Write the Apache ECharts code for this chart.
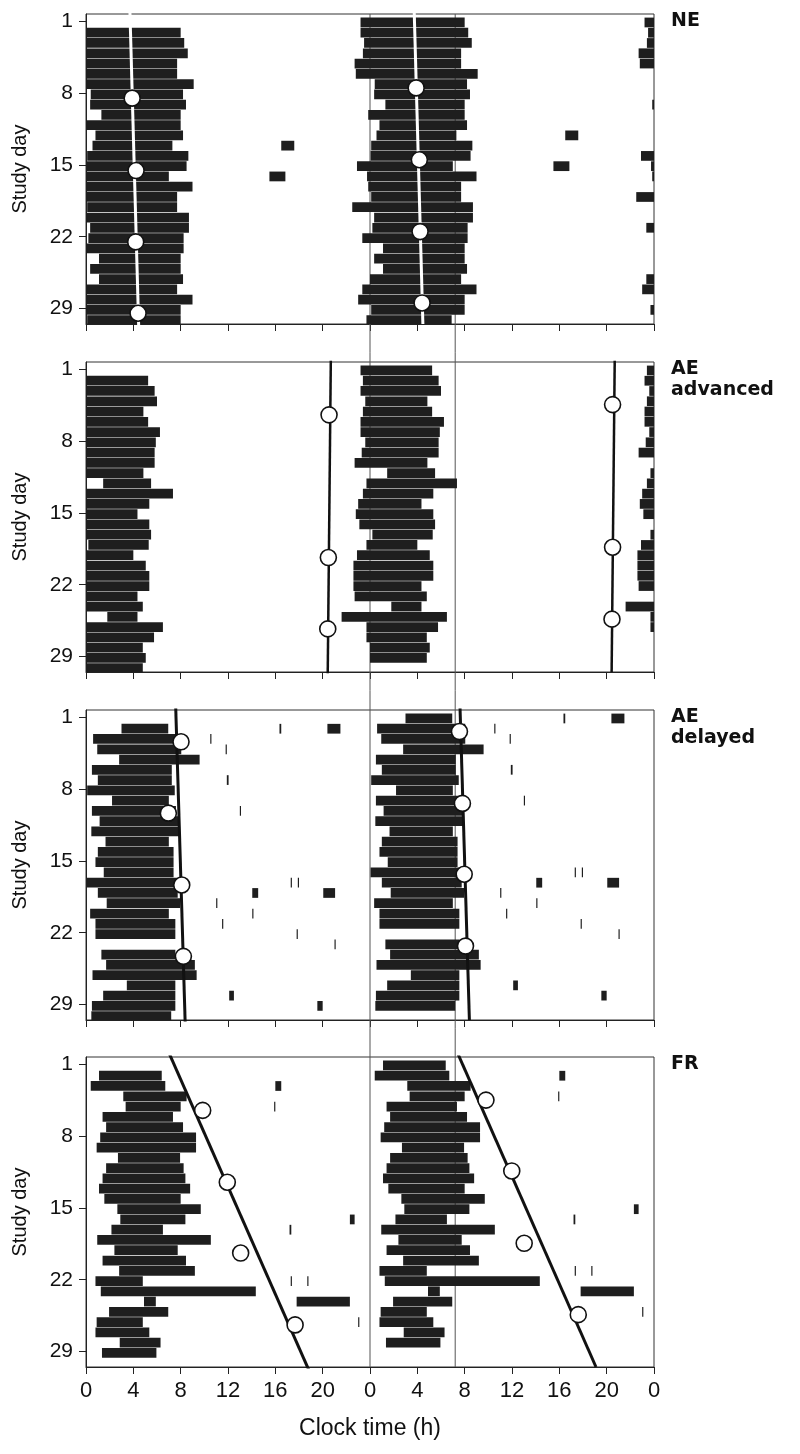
<!DOCTYPE html>
<html>
<head>
<meta charset="utf-8">
<script src="https://cdn.jsdelivr.net/npm/echarts@6/dist/echarts.min.js"></script>
<style>
  html, body { margin: 0; background: #fff; }
  #main { width: 800px; height: 1454px; }
</style>
</head>
<body>
<div id="main"></div>
<script>
// sleep per study day (index 0 = day 1), clock hours; a negative onset = evening before
var neOn  = [null, -0.8, -0.8, -0.5, -0.6, -1.3, -1.2, 0.4, 0.35, 1.3, -0.15, 0.8, 0.55, 0.1, 0.05, -1.1,
             -0.25, -0.15, 0.1, -1.5, 0.35, 0.2, -0.65, 1.1, 0.35, 1.1, 0.0, -0.65, -1.0, 0.1, -0.3];
var neOff = [null, 8.0, 8.3, 8.6, 7.7, 7.7, 9.1, 8.2, 8.45, 8.0, 8.0, 8.2, 7.3, 8.65, 8.5, 7.0,
             9.0, 7.7, 7.7, 8.7, 8.7, 8.25, 8.25, 8.0, 8.0, 8.2, 7.7, 9.0, 8.0, 8.0, 6.9];
var neNaps = [[13, 16.5, 17.6], [16, 15.5, 16.85]];

var advOn  = [null, -0.8, -0.6, -0.8, -0.4, -0.6, -0.8, -0.8, -0.4, -0.7, -1.3, 1.45, -0.3, -0.6, -1.0, -1.2,
              -0.9, 0.2, -0.3, -1.1, -1.4, -1.4, -1.4, -1.3, 1.8, -2.4, -0.3, -0.3, 0.0, 0.0, null];
var advOff = [null, 5.25, 5.8, 6.0, 4.85, 5.25, 6.25, 5.9, 5.8, 5.8, 4.85, 5.5, 7.35, 5.35, 4.35, 5.35,
              5.5, 5.3, 4.0, 5.05, 5.35, 5.35, 4.35, 4.8, 4.35, 6.5, 5.75, 4.8, 5.05, 4.8, null];
var advNaps = [];

var delOn  = [null, 3.0, 0.6, 0.95, 2.8, 0.5, 1.0, 0.1, 2.2, 0.5, 1.15, 0.45, 1.65, 1.0, 0.8, 1.5,
              0.05, 1.0, 1.75, 0.35, 0.8, 0.8, null, 1.3, 1.7, 0.55, 3.45, 1.45, 0.5, 0.45, null];
var delOff = [null, 6.95, 8.05, 8.05, 9.6, 7.25, 7.25, 7.5, 7.0, 7.6, 7.85, 7.95, 7.0, 7.4, 7.4, 7.4,
              7.75, 7.75, 7.95, 7.0, 7.55, 7.55, null, 7.55, 9.2, 9.35, 7.55, 7.55, 7.55, 7.2, null];
var delNaps = [[2, 16.35, 16.5], [2, 20.4, 21.5], [3, 10.5, 10.6], [4, 11.8, 11.9], [7, 11.9, 12.05],
               [10, 13.0, 13.1], [17, 17.3, 17.4], [17, 17.9, 18.0], [18, 14.05, 14.55], [18, 20.05, 21.05],
               [19, 11.0, 11.1], [20, 14.05, 14.15], [21, 11.5, 11.6], [22, 17.8, 17.9], [23, 21.0, 21.1],
               [28, 12.1, 12.5], [29, 19.55, 20.0]];

var frOn  = [null, 1.1, 0.4, 3.15, 3.35, 1.4, 1.7, 1.2, 0.9, 2.7, 1.7, 1.4, 1.1, 1.55, 2.65, 2.9,
             2.15, 0.95, 2.4, 1.4, 2.8, 0.8, 1.25, 4.9, 1.95, 0.9, 0.8, 2.85, 1.35, null, null];
var frOff = [null, 6.4, 6.7, 8.5, 8.0, 7.35, 8.2, 9.3, 9.3, 7.95, 8.25, 8.4, 8.8, 8.0, 9.7, 8.4,
             6.5, 10.55, 7.75, 8.45, 9.2, 4.8, 14.35, 5.9, 6.95, 4.8, 5.35, 6.3, 5.95, null, null];
var frNaps = [[3, 16.0, 16.5], [5, 15.9, 16.0], [16, 22.3, 22.7], [17, 17.2, 17.35],
              [22, 17.3, 17.4], [22, 18.7, 18.8], [24, 17.8, 22.3], [26, 23.0, 23.1]];

// melatonin points [row, clock hour], read separately for the left and right halves
var neDotsL  = [[8.5, 3.9], [15.55, 4.23], [22.5, 4.2], [29.45, 4.4]];
var neDotsR  = [[7.5, 3.9], [14.5, 4.17], [21.5, 4.23], [28.45, 4.4]];
var advDotsL = [[5.45, 20.54], [19.35, 20.48], [26.3, 20.43]];
var advDotsR = [[4.45, 20.5], [18.35, 20.5], [25.35, 20.45]];
var delDotsL = [[3.4, 8.03], [10.35, 6.96], [17.35, 8.09], [24.3, 8.23]];
var delDotsR = [[2.4, 7.56], [9.4, 7.81], [16.3, 7.96], [23.3, 8.07]];
var frDotsL  = [[5.5, 9.86], [12.5, 11.94], [19.4, 13.07], [26.4, 17.67]];
var frDotsR  = [[4.5, 9.8], [11.4, 11.98], [18.45, 13.03], [25.4, 17.6]];

// fitted phase lines [day, clock hour] at both ends
var neFit  = [[0, 3.71], [31.5, 4.47]];
var advFit = [[0, 20.69], [31.5, 20.42]];
var delFit = [[0, 7.58], [31.5, 8.4]];
var frFit  = [[0, 7.05], [31.5, 19.1]];

var dayTicks = [1, 8, 15, 22, 29];
var panelNames = ['NE', 'AE\nadvanced', 'AE\ndelayed', 'FR'];
var refLines = [24, 31.2];   // vertical guides running through all panels

var panels = [
  { on: neOn, off: neOff, naps: neNaps, dotsL: neDotsL, dotsR: neDotsR, fit: neFit, fitColor: '#fff' },
  { on: advOn, off: advOff, naps: advNaps, dotsL: advDotsL, dotsR: advDotsR, fit: advFit, fitColor: '#111' },
  { on: delOn, off: delOff, naps: delNaps, dotsL: delDotsL, dotsR: delDotsR, fit: delFit, fitColor: '#111' },
  { on: frOn, off: frOff, naps: frNaps, dotsL: frDotsL, dotsR: frDotsR, fit: frFit, fitColor: '#111' }
];

var gridTops = [14, 362, 710, 1057];
var gridH = 310;
var FONT = 'Liberation Sans, Arial, sans-serif';

// double plot: row r shows day r on the left and day r+1 on the right
function doublePlot(on, off, naps) {
  var eps = [];
  for (var i = 0; i < on.length; i++) {
    if (on[i] == null) continue;
    eps.push([24 * i + on[i], 24 * i + off[i]]);
  }
  naps.forEach(function (n) {
    eps.push([24 * (n[0] - 1) + n[1], 24 * (n[0] - 1) + n[2]]);
  });
  var out = [];
  for (var r = 1; r <= 30; r++) {
    var w0 = 24 * (r - 1), w1 = 24 * (r + 1);
    eps.forEach(function (e) {
      var a = Math.max(e[0], w0), b = Math.min(e[1], w1);
      if (b > a) out.push([a - w0, b - w0, r]);
    });
  }
  return out;
}

function renderBar(params, api) {
  var p0 = api.coord([api.value(0), api.value(2) - 0.35]);
  var p1 = api.coord([api.value(1), api.value(2) + 0.6]);
  var shape = echarts.graphic.clipRectByRect({
    x: p0[0], y: p0[1], width: p1[0] - p0[0], height: p1[1] - p0[1]
  }, params.coordSys);
  if (!shape) return;
  return { type: 'rect', shape: shape, style: { fill: '#1e1e1e' } };
}

var grid = [], xAxis = [], yAxis = [], series = [], title = [];

panels.forEach(function (p, i) {
  var last = i === panels.length - 1;
  grid.push({ left: 86, right: 146, top: gridTops[i], height: gridH,
              show: true, borderColor: '#333', borderWidth: 1, backgroundColor: 'transparent' });
  xAxis.push({
    gridIndex: i, type: 'value', min: 0, max: 48, interval: 4,
    axisLine: { lineStyle: { color: '#222' } },
    axisTick: { show: true, length: 7, lineStyle: { color: '#222' } },
    splitLine: { show: false },
    axisLabel: { show: last, margin: 13, fontSize: 22, fontFamily: FONT, color: '#111',
                 formatter: function (v) { return v % 24; } },
    name: last ? 'Clock time (h)' : '', nameLocation: 'middle', nameGap: 50,
    nameTextStyle: { fontSize: 23, fontFamily: FONT, color: '#111' }
  });
  yAxis.push({
    gridIndex: i, type: 'value', inverse: true, min: 0.3, max: 30.5,
    axisLine: { lineStyle: { color: '#222' } },
    axisTick: { show: true, length: 7, customValues: dayTicks, lineStyle: { color: '#222' } },
    splitLine: { show: false },
    axisLabel: { margin: 13, fontSize: 21, fontFamily: FONT, color: '#111', customValues: dayTicks },
    name: 'Study day', nameLocation: 'middle', nameGap: 56,
    nameTextStyle: { fontSize: 20, fontFamily: FONT, color: '#111' }
  });
  title.push({
    text: panelNames[i], left: 671, top: gridTops[i] - 3, padding: 0,
    textStyle: { fontFamily: 'DejaVu Sans', fontWeight: 'bold', fontSize: 19, lineHeight: 21, color: '#111' }
  });

  series.push({
    type: 'custom', xAxisIndex: i, yAxisIndex: i, z: 3,
    renderItem: renderBar, encode: { x: [0, 1], y: 2 },
    data: doublePlot(p.on, p.off, p.naps), silent: true
  });
  var fitStyle = { color: p.fitColor, width: i === 1 ? 2.5 : 3 };
  series.push({
    type: 'line', xAxisIndex: i, yAxisIndex: i, z: 4, symbol: 'none', silent: true,
    lineStyle: fitStyle,
    data: p.fit.map(function (q) { return [q[1], q[0]]; })
  });
  series.push({
    type: 'line', xAxisIndex: i, yAxisIndex: i, z: 4, symbol: 'none', silent: true,
    lineStyle: fitStyle,
    data: p.fit.map(function (q) { return [q[1] + 24, q[0] - 1]; })
  });
  series.push({
    type: 'scatter', xAxisIndex: i, yAxisIndex: i, z: 5, symbolSize: 16, silent: true,
    itemStyle: { color: '#fff', borderColor: '#111', borderWidth: 1.6, opacity: 1 },
    data: p.dotsL.map(function (q) { return [q[1], q[0]]; })
      .concat(p.dotsR.map(function (q) { return [q[1] + 24, q[0]]; }))
  });
});

// hidden grid spanning all panels, only for the vertical guide lines
grid.push({ left: 86, right: 146, top: gridTops[0], bottom: 1454 - (gridTops[3] + gridH) });
xAxis.push({ gridIndex: 4, type: 'value', min: 0, max: 48, show: false });
yAxis.push({ gridIndex: 4, type: 'value', min: 0, max: 1, show: false });
refLines.forEach(function (x) {
  series.push({
    type: 'line', xAxisIndex: 4, yAxisIndex: 4, z: 1, symbol: 'none', silent: true,
    lineStyle: { color: '#555', width: 1 },
    data: [[x, 0], [x, 1]]
  });
});

var myChart = echarts.init(document.getElementById('main'), null, { renderer: 'canvas' });
myChart.setOption({
  animation: false,
  backgroundColor: '#fff',
  title: title,
  grid: grid,
  xAxis: xAxis,
  yAxis: yAxis,
  series: series
});
</script>
</body>
</html>
